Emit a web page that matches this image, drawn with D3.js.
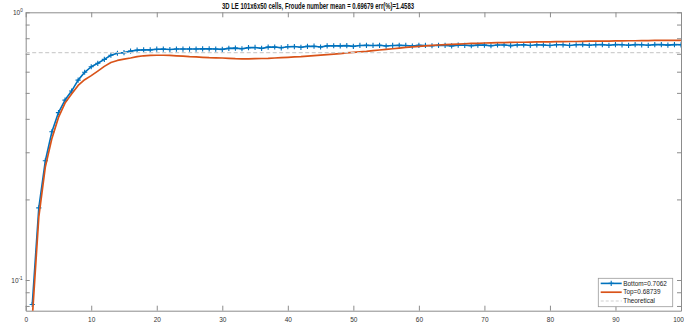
<!DOCTYPE html>
<html>
<head>
<meta charset="utf-8">
<script src="https://cdn.jsdelivr.net/npm/d3@7"></script>
<style>
  html, body { margin: 0; padding: 0; background: #ffffff; }
  svg { display: block; font-family: "Liberation Sans", Arial, Helvetica, sans-serif; }
</style>
</head>
<body>
<svg id="chart" width="684" height="329"></svg>
<script>
// Froude number over time at the bottom and top of the domain
const bottomValues = [
  0.081, 0.186, 0.279, 0.358, 0.422, 0.470, 0.508, 0.558, 0.597, 0.626,
  0.645, 0.667, 0.691, 0.703, 0.707, 0.716, 0.722, 0.724, 0.724, 0.728,
  0.729, 0.726, 0.729, 0.729, 0.729, 0.729, 0.730, 0.730, 0.729, 0.727,
  0.733, 0.735, 0.731, 0.738, 0.739, 0.733, 0.741, 0.742, 0.737, 0.744,
  0.745, 0.740, 0.746, 0.747, 0.742, 0.749, 0.750, 0.749, 0.751, 0.746,
  0.752, 0.753, 0.752, 0.753, 0.748, 0.752, 0.753, 0.752, 0.748, 0.753,
  0.752, 0.750, 0.753, 0.752, 0.749, 0.754, 0.753, 0.751, 0.754, 0.754,
  0.750, 0.755, 0.755, 0.751, 0.755, 0.756, 0.752, 0.756, 0.755, 0.752,
  0.756, 0.756, 0.752, 0.756, 0.757, 0.753, 0.756, 0.757, 0.753, 0.757,
  0.756, 0.753, 0.757, 0.756, 0.753, 0.757, 0.757, 0.754, 0.757, 0.756
];
const topValues = [
  0.072, 0.172, 0.265, 0.338, 0.405, 0.458, 0.495, 0.533, 0.560, 0.580,
  0.603, 0.628, 0.649, 0.661, 0.668, 0.675, 0.683, 0.688, 0.690, 0.691,
  0.691, 0.690, 0.688, 0.686, 0.683, 0.681, 0.679, 0.677, 0.676, 0.675,
  0.673, 0.671, 0.670, 0.670, 0.671, 0.672, 0.673, 0.675, 0.677, 0.679,
  0.681, 0.683, 0.686, 0.689, 0.692, 0.695, 0.698, 0.701, 0.705, 0.709,
  0.712, 0.715, 0.719, 0.723, 0.727, 0.731, 0.735, 0.739, 0.743, 0.746,
  0.749, 0.752, 0.755, 0.757, 0.759, 0.761, 0.763, 0.765, 0.766, 0.768,
  0.769, 0.770, 0.771, 0.772, 0.773, 0.773, 0.774, 0.775, 0.775, 0.776,
  0.777, 0.777, 0.778, 0.778, 0.779, 0.780, 0.780, 0.781, 0.781, 0.782,
  0.782, 0.783, 0.783, 0.784, 0.784, 0.785, 0.785, 0.786, 0.786, 0.786
];
const theoretical = 0.70711;

const xTicks = [0, 10, 20, 30, 40, 50, 60, 70, 80, 90, 100];
const yMajorTicks = [0.1, 1];
const yMajorLabels = [["10", "-1"], ["10", "0"]];
const yMinorTicks = [0.08, 0.09, 0.2, 0.3, 0.4, 0.5, 0.6, 0.7, 0.8, 0.9];
const legendLabels = ["Bottom=0.7062", "Top=0.68739", "Theoretical"];
const titleText = "3D LE 101x6x50 cells, Froude number mean = 0.69679 err(%)=1.4583";

const colBottom = "#0072BD";
const colTop = "#D95319";
const colTheo = "#cfcfcf";
const colAxis = "#8c8c8c";

const plot = { left: 25.7, right: 681, top: 12.3, bottom: 310.7 };

const svg = d3.select("#chart");
svg.append("rect").attr("width", 684).attr("height", 329).attr("fill", "#fff");

const x = d3.scaleLinear().domain([0, 100]).range([plot.left, plot.right]);
const y = d3.scaleLog().domain([0.0768, 1]).range([plot.bottom, plot.top]);

svg.append("defs").append("clipPath").attr("id", "plotClip")
  .append("rect")
  .attr("x", plot.left).attr("y", plot.top)
  .attr("width", plot.right - plot.left).attr("height", plot.bottom - plot.top);

// Axes: ticks point inward on all four sides
function styleAxis(g) {
  g.select(".domain").attr("stroke", colAxis).attr("stroke-width", 1);
  g.selectAll(".tick line").attr("stroke", colAxis).attr("stroke-width", 1);
  g.selectAll(".tick text").attr("fill", "#333").attr("font-size", 6.5);
}

const xAxisG = svg.append("g")
  .attr("transform", `translate(0,${plot.bottom})`)
  .call(d3.axisBottom(x).tickValues(xTicks).tickSize(-5).tickSizeOuter(0).tickPadding(7))
  .call(styleAxis);
// keep the last label inside the canvas
xAxisG.selectAll(".tick text")
  .filter(d => d === xTicks[xTicks.length - 1])
  .attr("text-anchor", "end")
  .attr("x", 684 - plot.right - 0.5);

svg.append("g")
  .attr("transform", `translate(0,${plot.top})`)
  .call(d3.axisTop(x).tickValues(xTicks).tickSize(-5).tickSizeOuter(0).tickFormat(""))
  .call(styleAxis);

const yAllTicks = yMajorTicks.concat(yMinorTicks);
svg.append("g")
  .attr("transform", `translate(${plot.left},0)`)
  .call(d3.axisLeft(y).tickValues(yAllTicks).tickSize(-4).tickSizeOuter(0).tickFormat(""))
  .call(styleAxis);

svg.append("g")
  .attr("transform", `translate(${plot.right},0)`)
  .call(d3.axisRight(y).tickValues(yAllTicks).tickSize(-4).tickSizeOuter(0).tickFormat(""))
  .call(styleAxis);

// Power-of-ten labels on the log axis
yMajorTicks.forEach((v, i) => {
  const t = svg.append("text")
    .attr("x", plot.left - 3)
    .attr("y", y(v) + 2.5)
    .attr("text-anchor", "end")
    .attr("fill", "#333")
    .attr("font-size", 6.5);
  t.append("tspan").text(yMajorLabels[i][0]);
  t.append("tspan").attr("dy", -3).attr("font-size", 4.6).text(yMajorLabels[i][1]);
});

// Title
svg.append("text")
  .attr("x", 222).attr("y", 9)
  .attr("font-size", 8.5).attr("font-weight", "bold").attr("fill", "#111")
  .attr("textLength", 192).attr("lengthAdjust", "spacingAndGlyphs")
  .text(titleText);

// Series
const plotG = svg.append("g").attr("clip-path", "url(#plotClip)");
const line = d3.line().x((d, i) => x(i + 1)).y(d => y(d));

plotG.append("path")
  .datum(bottomValues)
  .attr("d", line)
  .attr("fill", "none")
  .attr("stroke", colBottom)
  .attr("stroke-width", 1.6)
  .attr("stroke-linejoin", "round");

const ms = 2.6;
plotG.selectAll(".mk")
  .data(bottomValues)
  .join("path")
  .attr("class", "mk")
  .attr("d", (d, i) => {
    const cx = x(i + 1), cy = y(d);
    return `M${cx - ms},${cy}H${cx + ms}M${cx},${cy - ms}V${cy + ms}`;
  })
  .attr("stroke", colBottom)
  .attr("stroke-width", 1.1)
  .attr("fill", "none");

plotG.append("path")
  .datum(topValues)
  .attr("d", line)
  .attr("fill", "none")
  .attr("stroke", colTop)
  .attr("stroke-width", 1.7)
  .attr("stroke-linejoin", "round");

plotG.append("line")
  .attr("x1", plot.left).attr("x2", plot.right)
  .attr("y1", y(theoretical)).attr("y2", y(theoretical))
  .attr("stroke", colTheo)
  .attr("stroke-width", 1.4)
  .attr("stroke-dasharray", "4,2.5");

// Legend
const lg = svg.append("g");
lg.append("rect")
  .attr("x", 598.3).attr("y", 278.3)
  .attr("width", 74.4).attr("height", 28.4)
  .attr("fill", "#fff")
  .attr("stroke", "#9a9a9a")
  .attr("stroke-width", 0.8);

const rowY = [283.4, 292.2, 301];
const legendStyles = [
  { color: colBottom, width: 1.6, dash: null, marker: true },
  { color: colTop, width: 1.7, dash: null, marker: false },
  { color: colTheo, width: 1.2, dash: "3,2", marker: false }
];
legendLabels.forEach((label, i) => {
  const st = legendStyles[i];
  lg.append("line")
    .attr("x1", 600.7).attr("x2", 621.7)
    .attr("y1", rowY[i]).attr("y2", rowY[i])
    .attr("stroke", st.color)
    .attr("stroke-width", st.width)
    .attr("stroke-dasharray", st.dash);
  if (st.marker) {
    const cx = 611.2, cy = rowY[i];
    lg.append("path")
      .attr("d", `M${cx - ms},${cy}H${cx + ms}M${cx},${cy - ms}V${cy + ms}`)
      .attr("stroke", st.color).attr("stroke-width", 1.1);
  }
  lg.append("text")
    .attr("x", 623.3).attr("y", rowY[i] + 2.2)
    .attr("font-size", 6.4).attr("fill", "#222")
    .text(label);
});
</script>
</body>
</html>
